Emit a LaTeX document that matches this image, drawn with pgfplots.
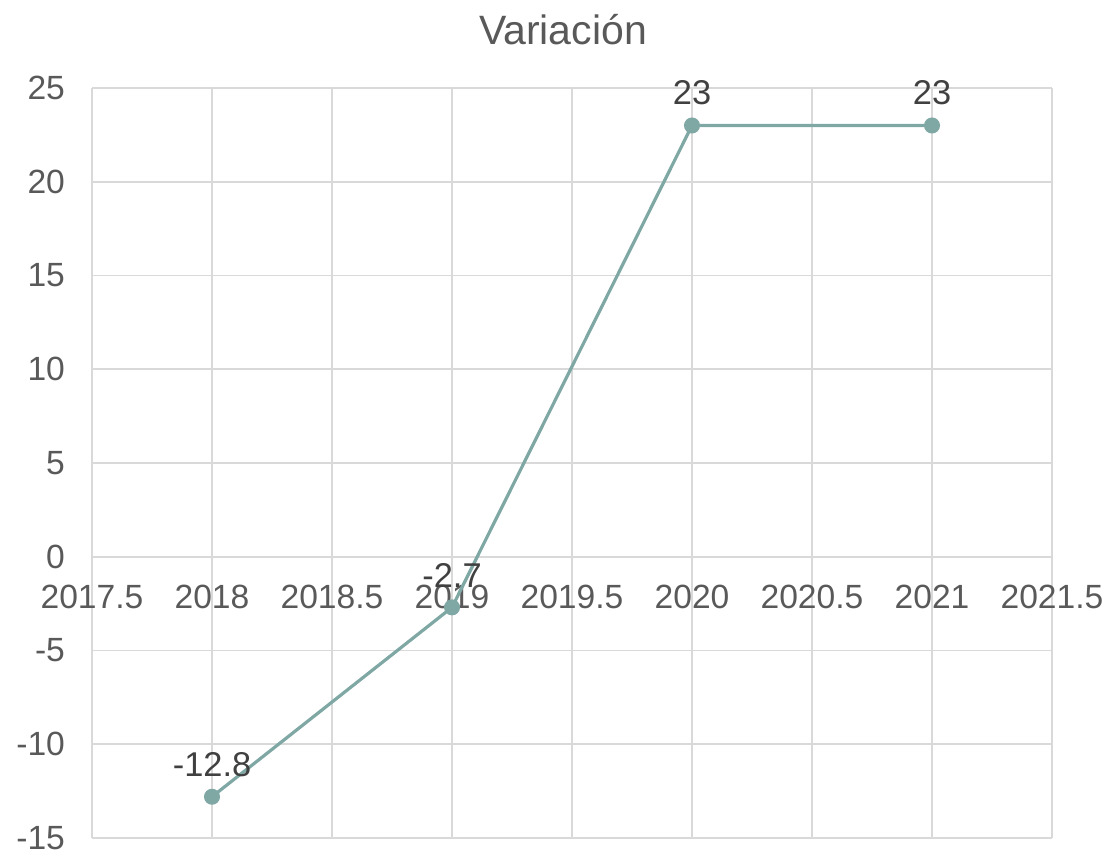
\documentclass[border=0pt]{standalone}
\usepackage{fontspec}
\setmainfont{Liberation Sans}
\usepackage{pgfplots}
\pgfplotsset{compat=1.18}
\definecolor{linec}{HTML}{7FA8A4}
\definecolor{gridc}{HTML}{D9D9D9}
\definecolor{tickc}{HTML}{595959}
\definecolor{labc}{HTML}{404040}
\begin{document}
\begin{tikzpicture}
\useasboundingbox (-46pt,-8pt) rectangle (510pt,419pt);
\begin{axis}[
  at={(0,0)}, anchor=south west,
  scale only axis, width=480pt, height=375pt,
  xmin=2017.5, xmax=2021.5, ymin=-15, ymax=25,
  xtick={2017.5,2018,2018.5,2019,2019.5,2020,2020.5,2021,2021.5},
  ytick={-15,-10,-5,0,5,10,15,20,25},
  axis x line=middle, axis y line=left,
  hide obscured x ticks=false, hide obscured y ticks=false,
  axis line style={draw=none},
  major tick length=0pt,
  grid=major, major grid style={gridc, line width=0.9pt},
  /pgf/number format/.cd, assume math mode=true, 1000 sep={}, fixed,
  /pgfplots/.cd,
  ticklabel style={font=\fontsize{16.8}{20}\selectfont, text=tickc},
  xticklabel style={yshift=-10.5pt},
  yticklabel style={xshift=-10pt},
  title={Variación},
  title style={at={(0.5,1)}, anchor=base, yshift=15.5pt, xshift=-4.5pt,
    font=\fontsize{20.5}{24}\selectfont, text=tickc},
  clip=false,
  nodes near coords,
  every node near coord/.append style={font=\fontsize{17.2}{20}\selectfont, text=labc, anchor=south, yshift=6pt},
]
\addplot[color=linec, line width=1.6pt, mark=*, mark size=3.2pt, mark options={fill=linec, draw=linec}]
  coordinates {(2018,-12.8) (2019,-2.7) (2020,23) (2021,23)};
\end{axis}
\end{tikzpicture}
\end{document}
